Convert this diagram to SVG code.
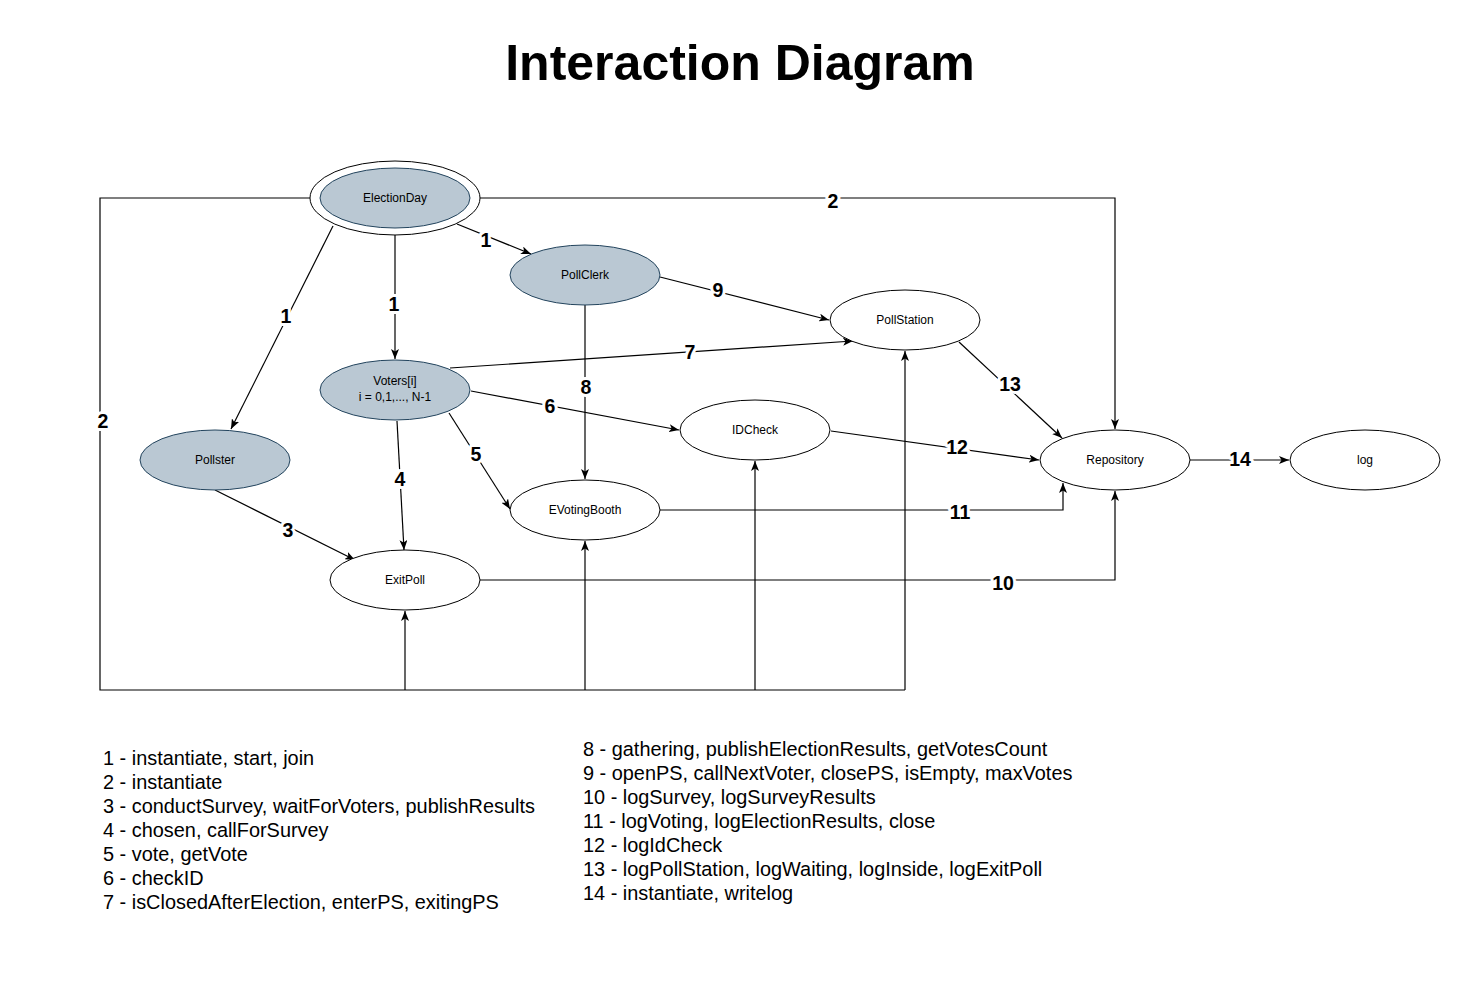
<svg xmlns="http://www.w3.org/2000/svg" width="1480" height="990" viewBox="0 0 1480 990">
<style>
.bg{fill:#fff}
.nb{fill:#bac8d3;stroke:#23445d;stroke-width:1}
.nw{fill:#fff;stroke:#000;stroke-width:1}
.nt{font-family:"Liberation Sans",Arial,sans-serif;font-size:12px;fill:#000;text-anchor:middle}
.e{fill:none;stroke:#000;stroke-width:1.2}
.el{font-family:"Liberation Sans",Arial,sans-serif;font-size:19.5px;font-weight:bold;fill:#000;text-anchor:middle;stroke:#fff;stroke-width:6px;paint-order:stroke;stroke-linejoin:round}
.lg{font-family:"Liberation Sans",Arial,sans-serif;font-size:19.9px;fill:#000}
.title{font-family:"Liberation Sans",Arial,sans-serif;font-size:50px;font-weight:bold;fill:#000;text-anchor:middle}
</style>
<defs>
<marker id="arr" viewBox="0 0 10 8" refX="10" refY="4" markerWidth="10" markerHeight="8" markerUnits="userSpaceOnUse" orient="auto">
<path d="M0,0 L10,4 L0,8 L2.5,4 z" fill="#000"/>
</marker>
</defs>
<rect class="bg" x="0" y="0" width="1480" height="990"/>
<text class="title" x="740" y="80">Interaction Diagram</text>

<g id="connectors">
<path class="e" d="M457,224 L531,254" marker-end="url(#arr)"/>
<path class="e" d="M395,235 L395,359" marker-end="url(#arr)"/>
<path class="e" d="M333,226 L231,429" marker-end="url(#arr)"/>
<path class="e" d="M480,198 L1115,198 L1115,429" marker-end="url(#arr)"/>
<path class="e" d="M310,198 L100,198 L100,690 L905,690"/>
<path class="e" d="M405,690 L405,611" marker-end="url(#arr)"/>
<path class="e" d="M585,690 L585,541" marker-end="url(#arr)"/>
<path class="e" d="M755,690 L755,461" marker-end="url(#arr)"/>
<path class="e" d="M905,690 L905,351" marker-end="url(#arr)"/>
<path class="e" d="M660,277 L829,320" marker-end="url(#arr)"/>
<path class="e" d="M585,305 L585,479" marker-end="url(#arr)"/>
<path class="e" d="M450,368 L853,341" marker-end="url(#arr)"/>
<path class="e" d="M471,391 L679,430" marker-end="url(#arr)"/>
<path class="e" d="M449,413 L510,509" marker-end="url(#arr)"/>
<path class="e" d="M397,421 L404,550" marker-end="url(#arr)"/>
<path class="e" d="M215,490 L355,560" marker-end="url(#arr)"/>
<path class="e" d="M480,580 L1115,580 L1115,491" marker-end="url(#arr)"/>
<path class="e" d="M660,510 L1063,510 L1063,483" marker-end="url(#arr)"/>
<path class="e" d="M831,431 L1039,460" marker-end="url(#arr)"/>
<path class="e" d="M959,342 L1062,438" marker-end="url(#arr)"/>
<path class="e" d="M1190,460 L1289,460" marker-end="url(#arr)"/>
<text class="el" x="486" y="247">1</text>
<text class="el" x="394" y="311">1</text>
<text class="el" x="286" y="323">1</text>
<text class="el" x="833" y="208">2</text>
<text class="el" x="103" y="428">2</text>
<text class="el" x="718" y="297">9</text>
<text class="el" x="586" y="394">8</text>
<text class="el" x="690" y="359">7</text>
<text class="el" x="550" y="413">6</text>
<text class="el" x="476" y="461">5</text>
<text class="el" x="400" y="486">4</text>
<text class="el" x="288" y="537">3</text>
<text class="el" x="1003" y="590">10</text>
<text class="el" x="960" y="519">11</text>
<text class="el" x="957" y="454">12</text>
<text class="el" x="1010" y="391">13</text>
<text class="el" x="1240" y="466">14</text>
</g>

<g id="ElectionDay">
<ellipse class="nw" cx="395" cy="198" rx="85" ry="37"/>
<ellipse class="nb" cx="395" cy="198" rx="75" ry="30"/>
<text class="nt" x="395" y="202">ElectionDay</text>
</g>
<g id="PollClerk">
<ellipse class="nb" cx="585" cy="275" rx="75" ry="30"/>
<text class="nt" x="585" y="279">PollClerk</text>
</g>
<g id="PollStation">
<ellipse class="nw" cx="905" cy="320" rx="75" ry="30"/>
<text class="nt" x="905" y="324">PollStation</text>
</g>
<g id="Voters">
<ellipse class="nb" cx="395" cy="390" rx="75" ry="30"/>
<text class="nt" x="395" y="385">Voters[i]</text>
<text class="nt" x="395" y="401">i = 0,1,..., N-1</text>
</g>
<g id="IDCheck">
<ellipse class="nw" cx="755" cy="430" rx="75" ry="30"/>
<text class="nt" x="755" y="434">IDCheck</text>
</g>
<g id="Pollster">
<ellipse class="nb" cx="215" cy="460" rx="75" ry="30"/>
<text class="nt" x="215" y="464">Pollster</text>
</g>
<g id="Repository">
<ellipse class="nw" cx="1115" cy="460" rx="75" ry="30"/>
<text class="nt" x="1115" y="464">Repository</text>
</g>
<g id="log">
<ellipse class="nw" cx="1365" cy="460" rx="75" ry="30"/>
<text class="nt" x="1365" y="464">log</text>
</g>
<g id="EVotingBooth">
<ellipse class="nw" cx="585" cy="510" rx="75" ry="30"/>
<text class="nt" x="585" y="514">EVotingBooth</text>
</g>
<g id="ExitPoll">
<ellipse class="nw" cx="405" cy="580" rx="75" ry="30"/>
<text class="nt" x="405" y="584">ExitPoll</text>
</g>

<g id="legend">
<text class="lg" x="103" y="765">1 - instantiate, start, join</text>
<text class="lg" x="103" y="789">2 - instantiate</text>
<text class="lg" x="103" y="813">3 - conductSurvey, waitForVoters, publishResults</text>
<text class="lg" x="103" y="837">4 - chosen, callForSurvey</text>
<text class="lg" x="103" y="861">5 - vote, getVote</text>
<text class="lg" x="103" y="885">6 - checkID</text>
<text class="lg" x="103" y="909">7 - isClosedAfterElection, enterPS, exitingPS</text>
<text class="lg" x="583" y="756">8 - gathering, publishElectionResults, getVotesCount</text>
<text class="lg" x="583" y="780">9 - openPS, callNextVoter, closePS, isEmpty, maxVotes</text>
<text class="lg" x="583" y="804">10 - logSurvey, logSurveyResults</text>
<text class="lg" x="583" y="828">11 - logVoting, logElectionResults, close</text>
<text class="lg" x="583" y="852">12 - logIdCheck</text>
<text class="lg" x="583" y="876">13 - logPollStation, logWaiting, logInside, logExitPoll</text>
<text class="lg" x="583" y="900">14 - instantiate, writelog</text>
</g>
</svg>
